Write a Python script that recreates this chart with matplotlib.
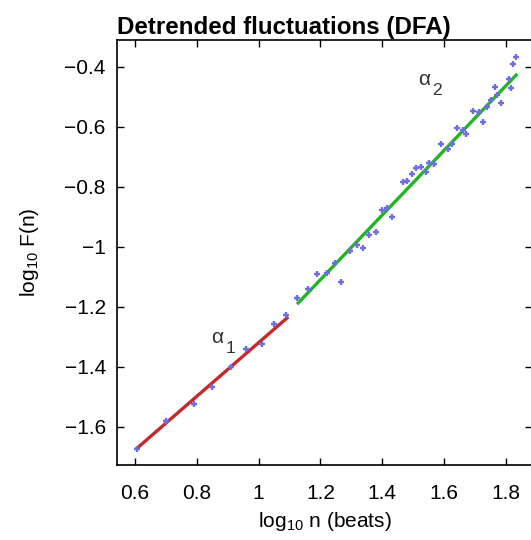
import numpy as np
import matplotlib
matplotlib.use("Agg")
import matplotlib.pyplot as plt

plt.rcParams['font.family'] = ['Liberation Sans', 'DejaVu Sans']
plt.rcParams['mathtext.fontset'] = 'custom'
plt.rcParams['mathtext.rm'] = 'Liberation Sans'
plt.rcParams['mathtext.it'] = 'Liberation Sans'
plt.rcParams['mathtext.default'] = 'regular'

# short-range scaling region (log10 n, log10 F(n))
seg1_x = [0.606, 0.70, 0.79, 0.85, 0.91, 0.96, 1.01, 1.05, 1.09]
seg1_y = [-1.675, -1.58, -1.523, -1.467, -1.40, -1.34, -1.323, -1.257, -1.227]

# long-range scaling region
seg2_x = [1.124, 1.16, 1.19, 1.22, 1.247, 1.267, 1.296, 1.318, 1.338, 1.357,
          1.38, 1.40, 1.415, 1.43, 1.467, 1.48, 1.496, 1.51, 1.526, 1.542,
          1.55, 1.568, 1.59, 1.613, 1.626, 1.642, 1.661, 1.671, 1.694, 1.713,
          1.726, 1.74, 1.752, 1.764, 1.77, 1.785, 1.81, 1.817, 1.823, 1.833]
seg2_y = [-1.17, -1.14, -1.09, -1.087, -1.053, -1.117, -1.013, -0.993, -1.003, -0.96,
          -0.95, -0.877, -0.87, -0.90, -0.783, -0.78, -0.757, -0.737, -0.733, -0.75,
          -0.72, -0.723, -0.657, -0.673, -0.657, -0.603, -0.61, -0.622, -0.547, -0.55,
          -0.583, -0.533, -0.51, -0.467, -0.493, -0.52, -0.44, -0.47, -0.39, -0.367]

# fitted lines (alpha1, alpha2)
fit1_x = [0.606, 1.092]
fit1_y = [-1.672, -1.237]
fit2_x = [1.128, 1.833]
fit2_y = [-1.187, -0.427]

xticks = [0.6, 0.8, 1.0, 1.2, 1.4, 1.6, 1.8]
xtick_labels = ['0.6', '0.8', '1', '1.2', '1.4', '1.6', '1.8']
yticks = [-1.6, -1.4, -1.2, -1.0, -0.8, -0.6, -0.4]
ytick_labels = ['\u22121.6', '\u22121.4', '\u22121.2', '\u22121', '\u22120.8', '\u22120.6', '\u22120.4']

fig = plt.figure(figsize=(5.31, 5.40), dpi=100)
ax = fig.add_axes([0.2203, 0.139, 0.782, 0.787])

ax.plot(seg1_x, seg1_y, '+', color='#6e6ee0', ms=4.5, mew=1.7, zorder=3)
ax.plot(seg2_x, seg2_y, '+', color='#6e6ee0', ms=4.5, mew=1.7, zorder=3)
ax.plot(fit1_x, fit1_y, color='#c42a2a', lw=2.4, zorder=2)
ax.plot(fit2_x, fit2_y, color='#22b422', lw=2.4, zorder=2)

# alpha labels, subscript drawn lower as in the original
ax.text(0.848, -1.32, '\u03b1', fontsize=15, color='#333333')
ax.text(0.893, -1.353, '1', fontsize=12.5, color='#333333')
ax.text(1.515, -0.46, '\u03b1', fontsize=15, color='#333333')
ax.text(1.560, -0.493, '2', fontsize=12.5, color='#333333')

ax.set_xlim(0.542, 1.885)
ax.set_ylim(-1.727, -0.31)
ax.set_xticks(xticks)
ax.set_xticklabels(xtick_labels)
ax.set_yticks(yticks)
ax.set_yticklabels(ytick_labels)
ax.tick_params(direction='in', length=5, width=1, top=True, right=True,
               labelsize=15, pad=8)
ax.tick_params(axis='x', pad=14)
for s in ax.spines.values():
    s.set_linewidth(1.2)

ax.set_xlabel(r'log$_{10}$ n (beats)', fontsize=15, labelpad=5)
ax.set_ylabel(r'log$_{10}$ F(n)', fontsize=15, labelpad=17)
ax.set_title('Detrended fluctuations (DFA)', fontsize=17.4, fontweight='bold',
             loc='left', pad=4)

fig.savefig('out.png', dpi=100)
